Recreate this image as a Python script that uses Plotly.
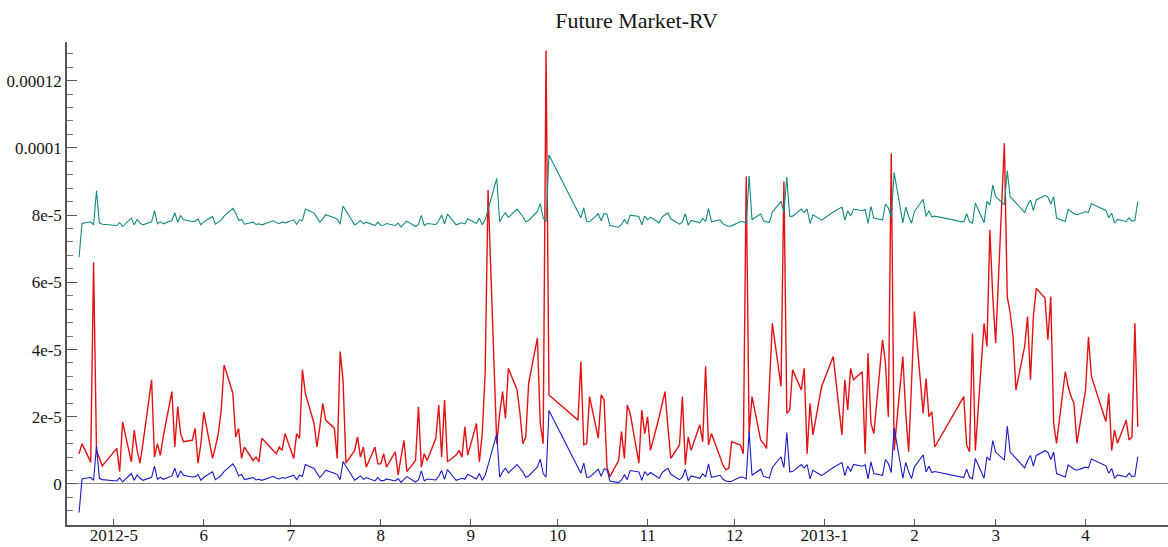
import pandas as pd
import plotly.graph_objects as go

# Trading calendar (CFFEX): weekdays minus exchange holidays
START, END = "2012-04-19", "2013-04-19"
HOLIDAYS = [
    "2012-04-30", "2012-05-01", "2012-06-22",
    "2012-10-01", "2012-10-02", "2012-10-03", "2012-10-04", "2012-10-05",
    "2013-01-01", "2013-01-02", "2013-01-03",
    "2013-02-11", "2013-02-12", "2013-02-13", "2013-02-14", "2013-02-15",
    "2013-04-04", "2013-04-05",
]

# Realized variance, units of 1e-6, one list per month
rv_2012_04 = [9, 12, 6.5, 66, 10, 7.5, 5.4]
rv_2012_05 = [10.6, 3.7, 18.5, 6.6, 16, 10, 6.2, 12, 31, 8, 12, 8.5, 14, 27.5, 11, 23, 15, 12.6, 13, 16.5, 6.2, 12]
rv_2012_06 = [21.3, 7.6, 11, 15, 22, 35.4, 27, 14, 16.5, 7.6, 11, 7, 8, 6.6, 13.6, 10, 9, 11, 10, 15]
rv_2012_07 = [7.6, 15, 13.6, 34, 27, 18, 11, 17, 24, 19, 16.6, 7.6, 39.4, 31, 6.2, 10, 14, 8, 11, 5, 11, 6]
rv_2012_08 = [6, 9, 5, 9.6, 2.7, 8, 13, 3.7, 7, 23, 5, 9, 7, 13.6, 23.5, 8, 25, 6.6, 8.6, 10, 8, 17, 8.6]
rv_2012_09 = [18, 6.6, 15, 33, 87.5, 12, 21, 27.5, 19.5, 34.4, 28, 21, 12, 14, 30, 43.4, 18, 12, 129, 26.5]
rv_2012_10 = [19, 36.4, 11.6, 12, 26, 13.6, 26.5, 25, 5, 2.2, 7, 15.6, 7.6, 23.5, 21, 6.2, 22, 15]
rv_2012_11 = [20, 10, 20, 24, 27.5, 17, 7.6, 11.6, 26, 5.7, 14, 10, 17.6, 12.6, 35, 11.6, 15, 8, 5.5, 4.2, 4.7, 12.6]
rv_2012_12 = [11.6, 9, 91.5, 15, 26, 13, 12, 10.6, 29, 47.8, 29, 90, 21, 22, 34, 28, 34.4, 9, 24, 14.6, 29]
rv_2013_01 = [37.9, 14.6, 31, 22, 34.4, 31, 33.4, 9, 38.9, 18, 15, 42.9, 36, 20, 98.4, 10, 37.9, 21, 9.6, 30]
rv_2013_02 = [51.3, 21, 31.4, 20, 21.5, 11, 26, 11.6, 9.6, 44.8, 10, 47.8, 40.9, 75.6, 55.8]
rv_2013_03 = [41.9, 101.4, 55.8, 50.8, 43.8, 28, 40.9, 49.8, 31, 49.8, 58.2, 55.3, 42.9, 55.8, 18, 12.1, 33.4, 29, 26, 24, 12.1]
rv_2013_04 = [28, 43.8, 32, 18.6, 27, 10, 16, 12.1, 19, 13.1, 14, 47.8, 17]

# One-step forecast, units of 1e-6
fc_2012_04 = [-8.5, 1.5, 2.0, 1.1, 11.2, 1.7, 1.3]
fc_2012_05 = [0.9, 1.8, 0.6, 3.1, 1.1, 2.7, 1.7, 1.1, 2.0, 5.3, 1.4, 2.0, 1.4, 2.4, 4.7, 1.9, 3.9, 2.6, 2.1, 2.2, 2.8, 1.1]
fc_2012_06 = [2.0, 3.6, 1.3, 1.9, 2.6, 3.7, 6.0, 4.6, 2.4, 2.8, 1.3, 1.9, 1.2, 1.4, 1.1, 2.3, 1.7, 1.5, 1.9, 1.7]
fc_2012_07 = [2.6, 1.3, 2.6, 2.3, 5.8, 4.6, 3.1, 1.9, 2.9, 4.1, 3.2, 2.8, 1.3, 6.7, 5.3, 1.1, 1.7, 2.4, 1.4, 1.9, 0.9, 1.9]
fc_2012_08 = [1.0, 1.0, 1.5, 0.9, 1.6, 0.5, 1.4, 2.2, 0.6, 1.2, 3.9, 0.9, 1.5, 1.2, 2.3, 4.0, 1.4, 4.3, 1.1, 1.5, 1.7, 1.4, 2.9]
fc_2012_09 = [1.5, 3.1, 1.1, 2.6, 5.6, 14.9, 2.0, 3.6, 4.7, 3.3, 5.8, 4.8, 3.6, 2.0, 2.4, 5.1, 7.4, 3.1, 2.0, 21.9]
fc_2012_10 = [4.5, 3.2, 6.2, 2.0, 2.0, 4.4, 2.3, 4.5, 4.3, 0.9, 0.4, 1.2, 2.7, 1.3, 4.0, 3.6, 1.1, 3.7]
fc_2012_11 = [2.6, 3.4, 1.7, 3.4, 4.1, 4.7, 2.9, 1.3, 2.0, 4.4, 1.0, 2.4, 1.7, 3.0, 2.1, 6.0, 2.0, 2.6, 1.4, 0.9, 0.7, 0.8]
fc_2012_12 = [2.1, 2.0, 1.5, 15.6, 2.6, 4.4, 2.2, 2.0, 1.8, 4.9, 8.1, 4.9, 15.3, 3.6, 3.7, 5.8, 4.8, 5.8, 1.5, 4.1, 2.5]
fc_2013_01 = [4.9, 6.4, 2.5, 5.3, 3.7, 5.8, 5.3, 5.7, 1.5, 6.6, 3.1, 2.6, 7.3, 6.1, 3.4, 16.7, 1.7, 6.4, 3.6, 1.6]
fc_2013_02 = [5.1, 8.7, 3.6, 5.3, 3.4, 3.7, 1.9, 4.4, 2.0, 1.6, 7.6, 1.7, 8.1, 7.0, 12.9]
fc_2013_03 = [9.5, 7.1, 17.2, 9.5, 8.6, 7.4, 4.8, 7.0, 8.5, 5.3, 8.5, 9.9, 9.4, 7.3, 9.5, 3.1, 2.1, 5.7, 4.9, 4.4, 4.1]
fc_2013_04 = [5.0, 4.8, 7.4, 5.4, 3.2, 4.6, 1.7, 2.7, 2.1, 3.2, 2.2, 2.4, 8.1]

# Upper band, units of 1e-6
ub_2012_04 = [67.5, 77.5, 78.0, 77.1, 87.2, 77.7, 77.3]
ub_2012_05 = [76.9, 77.8, 76.6, 79.1, 77.1, 78.7, 77.7, 77.1, 78.0, 81.3, 77.4, 78.0, 77.4, 78.4, 80.7, 77.9, 79.9, 78.6, 78.1, 78.2, 78.8, 77.1]
ub_2012_06 = [78.0, 79.6, 77.3, 77.9, 78.6, 79.7, 82.0, 80.6, 78.4, 78.8, 77.3, 77.9, 77.2, 77.4, 77.1, 78.3, 77.7, 77.5, 77.9, 77.7]
ub_2012_07 = [78.6, 77.3, 78.6, 78.3, 81.8, 80.6, 79.1, 77.9, 78.9, 80.1, 79.2, 78.8, 77.3, 82.7, 81.3, 77.1, 77.7, 78.4, 77.4, 77.9, 76.9, 77.9]
ub_2012_08 = [77.0, 77.0, 77.5, 76.9, 77.6, 76.5, 77.4, 78.2, 76.6, 77.2, 79.9, 76.9, 77.5, 77.2, 78.3, 80.0, 77.4, 80.3, 77.1, 77.5, 77.7, 77.4, 78.9]
ub_2012_09 = [77.5, 79.1, 77.1, 78.6, 81.6, 90.9, 78.0, 79.6, 80.7, 79.3, 81.8, 80.8, 79.6, 78.0, 78.4, 81.1, 83.4, 79.1, 78.0, 97.9]
ub_2012_10 = [80.5, 79.2, 82.2, 78.0, 78.0, 80.4, 78.3, 80.5, 80.3, 76.9, 76.4, 77.2, 78.7, 77.3, 80.0, 79.6, 77.1, 79.7]
ub_2012_11 = [78.6, 79.4, 77.7, 79.4, 80.1, 80.7, 78.9, 77.3, 78.0, 80.4, 77.0, 78.4, 77.7, 79.0, 78.1, 82.0, 78.0, 78.6, 77.4, 76.9, 76.7, 76.8]
ub_2012_12 = [78.1, 78.0, 77.5, 91.6, 78.6, 80.4, 78.2, 78.0, 77.8, 80.9, 84.1, 80.9, 91.3, 79.6, 79.7, 81.8, 80.8, 81.8, 77.5, 80.1, 78.5]
ub_2013_01 = [80.9, 82.4, 78.5, 81.3, 79.7, 81.8, 81.3, 81.7, 77.5, 82.6, 79.1, 78.6, 83.3, 82.1, 79.4, 92.7, 77.7, 82.4, 79.6, 77.6]
ub_2013_02 = [81.1, 84.7, 79.6, 81.3, 79.4, 79.7, 77.9, 80.4, 78.0, 77.6, 83.6, 77.7, 84.1, 83.0, 88.9]
ub_2013_03 = [85.5, 83.1, 93.2, 85.5, 84.6, 83.4, 80.8, 83.0, 84.5, 81.3, 84.5, 85.9, 85.4, 83.3, 85.5, 79.1, 78.1, 81.7, 80.9, 80.4, 80.1]
ub_2013_04 = [81.0, 80.8, 83.4, 81.4, 79.2, 80.6, 77.7, 78.7, 78.1, 79.2, 78.2, 78.4, 84.1]

# Month ticks on the time axis
TICK_DATES = ["2012-05-01", "2012-06-01", "2012-07-01", "2012-08-01", "2012-09-01", "2012-10-01",
              "2012-11-01", "2012-12-01", "2013-01-01", "2013-02-01", "2013-03-01", "2013-04-01"]
TICK_TEXT = ["2012-5", "6", "7", "8", "9", "10", "11", "12", "2013-1", "2", "3", "4"]

Y_TICKS = [0, 2e-5, 4e-5, 6e-5, 8e-5, 1e-4, 1.2e-4]
Y_TEXT = ["0", "2e-5", "4e-5", "6e-5", "8e-5", "0.0001", "0.00012"]

dates = pd.bdate_range(START, END, freq="C", holidays=HOLIDAYS)

def join(*months):
    return [v * 1e-6 for m in months for v in m]

rv = join(rv_2012_04, rv_2012_05, rv_2012_06, rv_2012_07, rv_2012_08, rv_2012_09, rv_2012_10,
          rv_2012_11, rv_2012_12, rv_2013_01, rv_2013_02, rv_2013_03, rv_2013_04)
fc = join(fc_2012_04, fc_2012_05, fc_2012_06, fc_2012_07, fc_2012_08, fc_2012_09, fc_2012_10,
          fc_2012_11, fc_2012_12, fc_2013_01, fc_2013_02, fc_2013_03, fc_2013_04)
ub = join(ub_2012_04, ub_2012_05, ub_2012_06, ub_2012_07, ub_2012_08, ub_2012_09, ub_2012_10,
          ub_2012_11, ub_2012_12, ub_2013_01, ub_2013_02, ub_2013_03, ub_2013_04)

SERIF = "Liberation Serif"
TEXT = "#151515"

fig = go.Figure()
fig.add_trace(go.Scatter(x=dates, y=rv, mode="lines", line=dict(color="#e41212", width=1.4)))
fig.add_trace(go.Scatter(x=dates, y=ub, mode="lines", line=dict(color="#118a80", width=1.1)))
fig.add_trace(go.Scatter(x=dates, y=fc, mode="lines", line=dict(color="#1a1ac8", width=1.1)))

fig.update_layout(
    width=1168, height=547,
    margin=dict(l=67, r=0, t=42, b=22),
    paper_bgcolor="white", plot_bgcolor="white",
    showlegend=False,
    title=dict(text="Future Market-RV", x=0.545, xanchor="center", y=0.962, yanchor="middle",
               font=dict(family=SERIF, size=22, color=TEXT)),
    font=dict(family=SERIF, size=17, color=TEXT),
)
fig.update_xaxes(
    type="date", automargin=False,
    range=["2012-04-14 20:00", "2013-04-29 10:00"],
    tickmode="array", tickvals=TICK_DATES, ticktext=TICK_TEXT,
    ticks="inside", ticklen=6, tickwidth=1.2, tickcolor="#555555",
    ticklabelstandoff=-6,
    showline=True, linecolor="#555555", linewidth=1.5,
    showgrid=False, zeroline=False,
    tickfont=dict(family=SERIF, size=17, color=TEXT),
)
fig.update_yaxes(
    automargin=False,
    range=[-12.2e-6, 131.5e-6],
    tickmode="array", tickvals=Y_TICKS, ticktext=Y_TEXT,
    ticks="inside", ticklen=10, tickwidth=1.2, tickcolor="#555555",
    minor=dict(tickmode="linear", tick0=0, dtick=4e-6, ticks="inside", ticklen=6,
               tickwidth=1, tickcolor="#777777", showgrid=False),
    showline=True, linecolor="#555555", linewidth=1.5,
    showgrid=False,
    zeroline=True, zerolinecolor="#8a8a8a", zerolinewidth=1,
    tickfont=dict(family=SERIF, size=17, color=TEXT),
)

fig.write_html("out.html")
